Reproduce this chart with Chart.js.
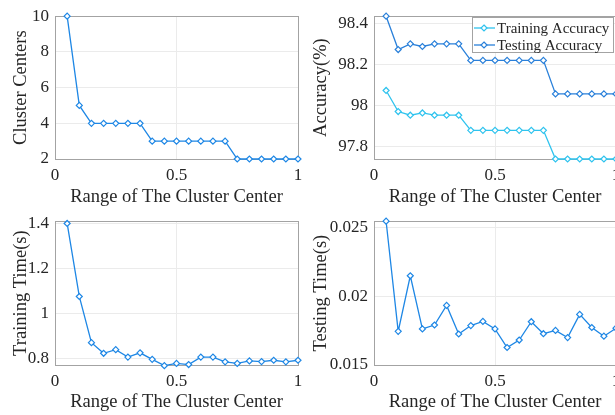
<!DOCTYPE html>
<html>
<head>
<meta charset="utf-8">
<script src="https://cdn.jsdelivr.net/npm/chart.js@4.4.1/dist/chart.umd.min.js"></script>
<style>
  body { margin: 0; width: 615px; height: 415px; overflow: hidden; background: #fff; position: relative; }
  canvas { position: absolute; }
</style>
</head>
<body>
<canvas id="centersChart" width="310" height="210" style="left:0;top:0"></canvas>
<canvas id="accuracyChart" width="330" height="210" style="left:300px;top:0"></canvas>
<canvas id="trainTimeChart" width="310" height="210" style="left:0;top:205px"></canvas>
<canvas id="testTimeChart" width="330" height="210" style="left:300px;top:205px"></canvas>
<script>
// Range of the cluster center (x values shared by every panel)
const clusterRange = [0.05, 0.1, 0.15, 0.2, 0.25, 0.3, 0.35, 0.4, 0.45, 0.5,
  0.55, 0.6, 0.65, 0.7, 0.75, 0.8, 0.85, 0.9, 0.95, 1];

const clusterCenters = [10, 5, 4, 4, 4, 4, 4, 3, 3, 3, 3, 3, 3, 3, 2, 2, 2, 2, 2, 2];

const trainingAccuracy = [98.073, 97.97, 97.952, 97.963, 97.952, 97.952, 97.952,
  97.878, 97.878, 97.878, 97.878, 97.878, 97.878, 97.878,
  97.738, 97.738, 97.738, 97.738, 97.738, 97.738];
const testingAccuracy = [98.436, 98.273, 98.301, 98.288, 98.301, 98.301, 98.301,
  98.22, 98.22, 98.22, 98.22, 98.22, 98.22, 98.22,
  98.056, 98.056, 98.056, 98.056, 98.056, 98.056];

const trainingTime = [1.4, 1.076, 0.871, 0.824, 0.84, 0.807, 0.826, 0.797, 0.769, 0.779,
  0.774, 0.807, 0.807, 0.786, 0.779, 0.79, 0.787, 0.793, 0.786, 0.793];

const testingTime = [0.02543, 0.01744, 0.02147, 0.01762, 0.0179, 0.01932, 0.01725, 0.01786,
  0.01816, 0.01762, 0.01627, 0.01681, 0.01814, 0.01727, 0.01751, 0.01699, 0.01867,
  0.01772, 0.01709, 0.01767];

// Tick labels
const xTicks = [0, 0.5, 1];
const centersTicks = [2, 4, 6, 8, 10];
const accuracyTicks = [97.8, 98, 98.2, 98.4];
const trainTimeTicks = [0.8, 1, 1.2, 1.4];
const testTimeTicks = [0.015, 0.02, 0.025];

const xTitle = "Range of The Cluster Center";
const lineBlue = "#1e87e5";
const testBlue = "#2a80da";
const trainCyan = "#2fc3ee";

Chart.defaults.font.family = "'Liberation Serif', 'Times New Roman', serif";
Chart.defaults.color = "#262626";

// draw the full axes box (MATLAB style)
const frame = {
  id: "frame",
  beforeDatasetsDraw(chart) {
    const { ctx, chartArea: a } = chart;
    ctx.save();
    ctx.strokeStyle = "#a3a3a3";
    ctx.lineWidth = 1;
    ctx.strokeRect(Math.round(a.left) + 0.5, Math.round(a.top) + 0.5,
      Math.round(a.right - a.left), Math.round(a.bottom - a.top));
    ctx.restore();
  }
};

function diamond(ctx, x, y, r, color) {
  ctx.beginPath();
  ctx.moveTo(x, y - r);
  ctx.lineTo(x + r, y);
  ctx.lineTo(x, y + r);
  ctx.lineTo(x - r, y);
  ctx.closePath();
  ctx.fillStyle = "#fff";
  ctx.fill();
  ctx.strokeStyle = color;
  ctx.lineWidth = 1.2;
  ctx.stroke();
}

// legend inside the top-right corner of the plot
const insideLegend = {
  id: "insideLegend",
  afterDatasetsDraw(chart) {
    const { ctx, chartArea } = chart;
    const w = 141, h = 35;
    const x = Math.round(chartArea.right - 3 - w);
    const y = Math.round(chartArea.top + 1);
    ctx.save();
    ctx.fillStyle = "#fff";
    ctx.fillRect(x, y, w, h);
    ctx.strokeStyle = "#a3a3a3";
    ctx.lineWidth = 1;
    ctx.strokeRect(x + 0.5, y + 0.5, w, h);
    chart.data.datasets.forEach((ds, i) => {
      const cy = y + 11 + i * 17;
      ctx.strokeStyle = ds.borderColor;
      ctx.lineWidth = 1.3;
      ctx.beginPath();
      ctx.moveTo(x + 2, cy);
      ctx.lineTo(x + 23, cy);
      ctx.stroke();
      diamond(ctx, x + 12, cy, 3, ds.borderColor);
      ctx.fillStyle = "#262626";
      ctx.font = "15px 'Liberation Serif', serif";
      ctx.textBaseline = "middle";
      ctx.fillText(ds.label, x + 25, cy + 1);
    });
    ctx.restore();
  }
};

function series(values, label, color) {
  return {
    label: label,
    data: clusterRange.map((x, i) => ({ x: x, y: values[i] })),
    borderColor: color,
    backgroundColor: "#fff",
    borderWidth: 1.3,
    pointStyle: "rectRot",
    pointRadius: 3,
    pointBorderWidth: 1.2,
    pointBackgroundColor: "#fff",
    pointBorderColor: color,
    tension: 0,
    clip: false
  };
}

const fmt = (v) => String(+Number(v).toFixed(4));

function makeChart(id, opts) {
  const plugins = [frame];
  if (opts.legend) plugins.push(insideLegend);
  return new Chart(document.getElementById(id), {
    type: "line",
    data: { datasets: opts.datasets },
    options: {
      responsive: false,
      animation: false,
      layout: { autoPadding: false, padding: { top: opts.top, right: opts.right, left: 0, bottom: 0 } },
      plugins: { legend: { display: false }, tooltip: { enabled: false } },
      scales: {
        x: {
          type: "linear",
          min: 0,
          max: 1,
          afterBuildTicks: (s) => { s.ticks = xTicks.map((v) => ({ value: v })); },
          afterFit: (s) => { s.height = opts.xHeight; },
          ticks: { padding: 6, font: { size: 17 }, maxRotation: 0, callback: fmt },
          grid: { color: "#ebebeb", drawTicks: false },
          border: { display: false },
          title: { display: true, text: xTitle, font: { size: 18.5, lineHeight: 1.2 }, padding: { top: 0, bottom: 2 } }
        },
        y: {
          type: "linear",
          min: opts.yMin,
          max: opts.yMax,
          afterBuildTicks: (s) => { s.ticks = opts.yTicks.map((v) => ({ value: v })); },
          afterFit: (s) => { s.width = opts.yWidth; },
          ticks: { padding: 6, font: { size: 17 }, callback: fmt },
          grid: { color: "#ebebeb", drawTicks: false },
          border: { display: false },
          title: { display: true, text: opts.yTitle, font: { size: 18.5, lineHeight: 1.2 }, padding: { top: 10, bottom: 0 } }
        }
      }
    },
    plugins: plugins
  });
}

makeChart("centersChart", {
  datasets: [series(clusterCenters, "Cluster Centers", lineBlue)],
  yTitle: "Cluster Centers", yMin: 2, yMax: 10, yTicks: centersTicks,
  top: 10, right: 12, yWidth: 55, xHeight: 51
});

makeChart("accuracyChart", {
  datasets: [
    series(trainingAccuracy, "Training Accuracy", trainCyan),
    series(testingAccuracy, "Testing Accuracy", testBlue)
  ],
  legend: true,
  yTitle: "Accuracy(%)", yMin: 97.738, yMax: 98.436, yTicks: accuracyTicks,
  top: 9, right: 14, yWidth: 74, xHeight: 51
});

makeChart("trainTimeChart", {
  datasets: [series(trainingTime, "Training Time(s)", lineBlue)],
  yTitle: "Training Time(s)", yMin: 0.772, yMax: 1.41, yTicks: trainTimeTicks,
  top: 11, right: 12, yWidth: 55, xHeight: 50
});

makeChart("testTimeChart", {
  datasets: [series(testingTime, "Testing Time(s)", lineBlue)],
  yTitle: "Testing Time(s)", yMin: 0.015, yMax: 0.02543, yTicks: testTimeTicks,
  top: 11, right: 14, yWidth: 74, xHeight: 50
});
</script>
</body>
</html>
